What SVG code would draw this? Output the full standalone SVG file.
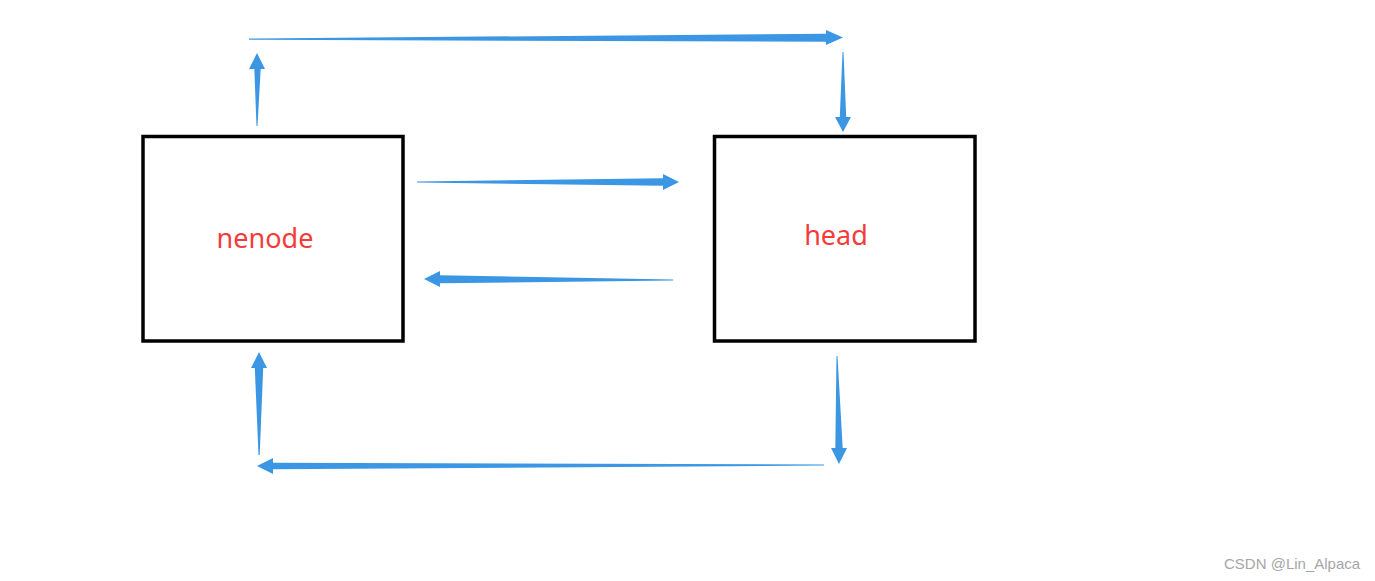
<svg xmlns="http://www.w3.org/2000/svg" width="1375" height="581" viewBox="0 0 1375 581">
<style>
.box{fill:#fff;stroke:#000;stroke-width:3.5}
.lbl{font-family:"Noto Sans","Open Sans",sans-serif;font-size:27px;fill:#f23c3c;text-anchor:middle}
.arr{fill:#3b97e3}
.wm{font-family:"Liberation Sans",Arial,sans-serif;font-size:15px;fill:#a6a6a6}
</style>
<rect width="1375" height="581" fill="#fff"/>
<g id="nenode">
<rect class="box" x="143" y="136.5" width="260" height="204.5"/>
<text class="lbl" x="265" y="248">nenode</text>
</g>
<g id="head">
<rect class="box" x="714.5" y="136.5" width="260.5" height="204.5"/>
<text class="lbl" x="836" y="245">head</text>
</g>
<g id="connectors">
<polygon class="arr" points="256.5,126 254.3,69 249,69 257,53 265,69 260.7,69 257.5,126"/>
<polygon class="arr" points="249,38.5 826,33.8 826,30 843,37.5 826,45 826,41.7 249,39.8"/>
<polygon class="arr" points="842.5,52 839.8,117 835,117 843,132 851,117 846.2,117 843.5,52"/>
<polygon class="arr" points="417,181.5 663,178.3 663,174 679,182 663,190 663,185.7 417,182.6"/>
<polygon class="arr" points="673,279.5 440,275.3 440,271 424,279 440,287 440,283.2 673,280.6"/>
<polygon class="arr" points="836.5,356 835.3,448 831,448 839,464 847,448 842.7,448 837.5,356"/>
<polygon class="arr" points="824,464.5 273,462.8 273,458 257,466 273,474 273,469.2 824,465.6"/>
<polygon class="arr" points="258.5,455 254.8,368 251,368 259,352 267,368 263.2,368 259.7,455"/>
</g>
<text class="wm" x="1224" y="569">CSDN @Lin_Alpaca</text>
</svg>
